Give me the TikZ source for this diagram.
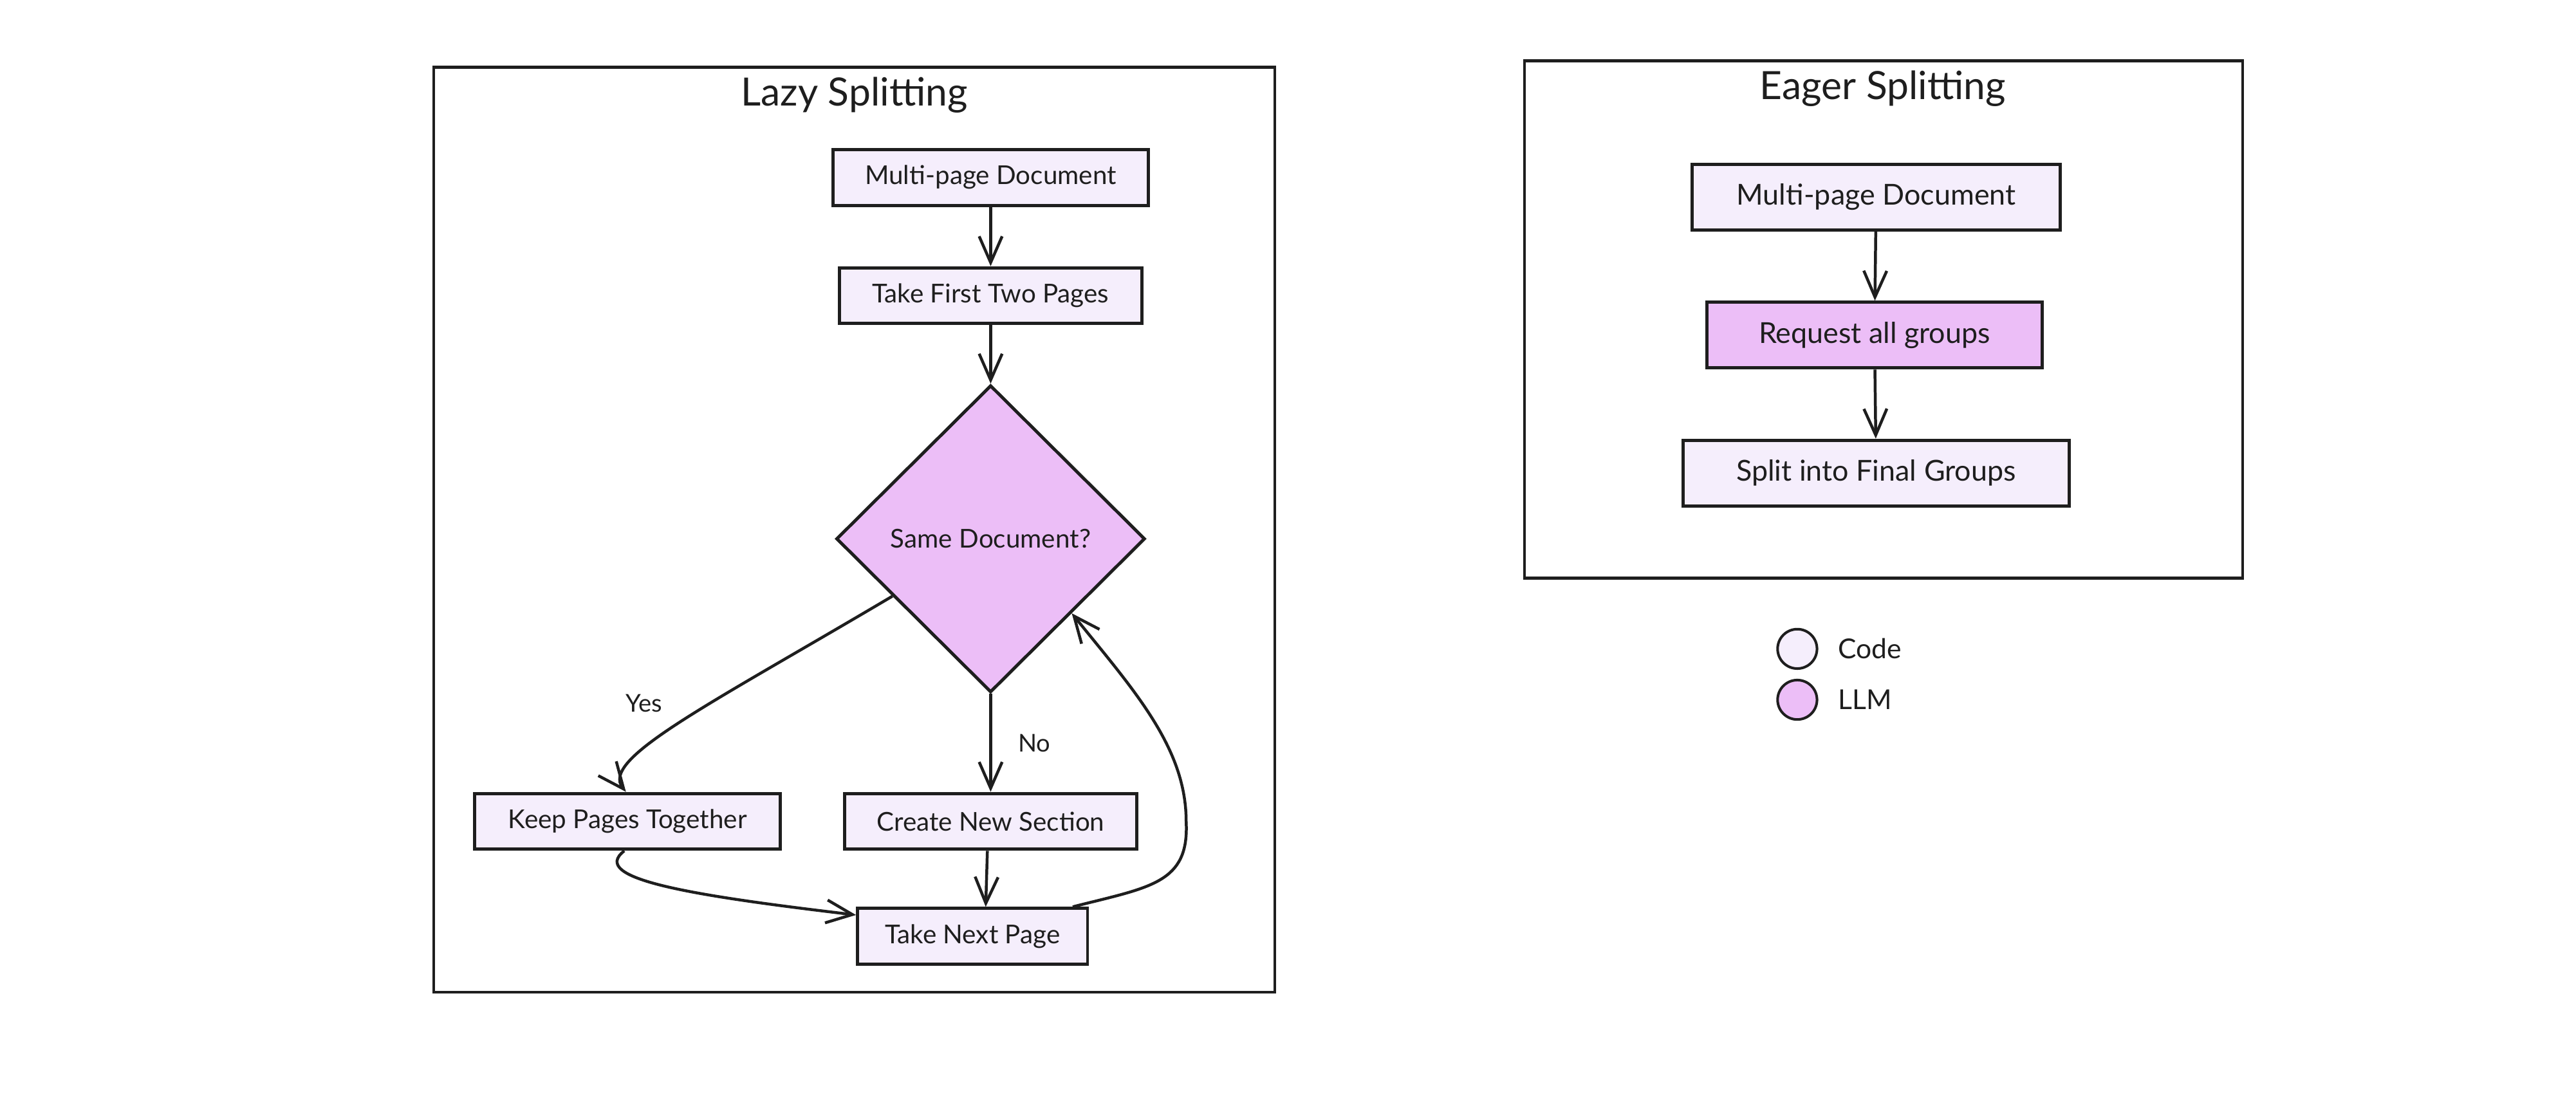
\documentclass[tikz,border=0pt]{standalone}
\usepackage{fontspec}
\setmainfont{Lato}
\usetikzlibrary{arrows.meta, shapes.geometric, positioning, calc}
\definecolor{codefill}{RGB}{245,238,252}
\definecolor{llmfill}{RGB}{236,190,247}
\definecolor{ink}{RGB}{30,30,30}

\begin{document}
\begin{tikzpicture}[
            x=0.02cm, y=-0.02cm,
            box/.style={draw=ink, fill=codefill, line width=1.1pt, minimum height=0.68cm, inner sep=0pt, text=ink, font=\fontsize{9}{11}\selectfont},
            bigbox/.style={box, minimum height=0.8cm, font=\fontsize{10}{12}\selectfont},
            llmbox/.style={bigbox, fill=llmfill},
            decision/.style={diamond, draw=ink, fill=llmfill, line width=1.1pt, minimum width=3.76cm, minimum height=3.74cm, inner sep=0pt, text=ink, font=\fontsize{9}{11}\selectfont},
            frame/.style={draw=ink, line width=1pt},
            title/.style={text=ink, font=\fontsize{13.5}{16}\selectfont},
            lbl/.style={text=ink, font=\fontsize{8.5}{10}\selectfont},
            dot/.style={circle, draw=ink, line width=0.9pt, minimum size=0.48cm, inner sep=0pt},
            arr/.style={-{Straight Barb[length=0.32cm, width=0.28cm]}, line width=1pt, ink}
        ]
            \useasboundingbox (0,0) rectangle (1568,669);

            % lazy splitting
            \draw[frame] (264,41) rectangle (776,604);
            \node[title] (lazytitle) at (520,58) {Lazy Splitting};
            \node[box, minimum width=3.84cm] (ldoc) at (603,108) {Multi-page Document};
            \node[box, minimum width=3.68cm] (first) at (603,180) {Take First Two Pages};
            \node[decision] (same) at (603,328) {Same Document?};
            \node[box, minimum width=3.72cm] (keep) at (382,500) {Keep Pages Together};
            \node[box, minimum width=3.56cm] (create) at (603,500) {Create New Section};
            \node[box, minimum width=2.8cm] (next) at (592,570) {Take Next Page};
            \node[lbl] (yes) at (392,428) {Yes};

            \draw[arr] (ldoc) -- (first);
            \draw[arr] (first) -- (same);
            \draw[arr] ($(same.west)!0.37!(same.south)$) .. controls (430,430) and (365,462) .. ([xshift=-0.02cm]keep.north);
            \draw[arr] (same.south) -- node[lbl, right=0.2cm] {No} (create.north);
            \draw[arr] ([xshift=-0.04cm]create.south) -- ([xshift=0.16cm]next.north);
            \draw[arr] ([xshift=-0.04cm]keep.south) .. controls (358,535) and (420,545) .. ([yshift=0.26cm]next.west);
            \draw[arr] ([xshift=-0.2cm]next.north east) .. controls (700,540) and (724,538) .. (722,500)
                .. controls (722,455) and (690,420) .. ($(same.south)!0.52!(same.east)$);

            % eager splitting
            \draw[frame] (928,37) rectangle (1365,352);
            \node[title] (eagertitle) at (1146,54) {Eager Splitting};
            \node[bigbox, minimum width=4.48cm] (edoc) at (1142,120) {Multi-page Document};
            \node[llmbox, minimum width=4.08cm] (request) at (1141,204) {Request all groups};
            \node[bigbox, minimum width=4.7cm] (split) at (1142,288) {Split into Final Groups};

            \draw[arr] (edoc) -- (request);
            \draw[arr] (request) -- (split);

            % legend
            \node[dot, fill=codefill] (codedot) at (1094,395) {};
            \node[lbl, font=\fontsize{9.5}{11}\selectfont, right=0.12cm of codedot] (codetext) {Code};
            \node[dot, fill=llmfill] (llmdot) at (1094,426) {};
            \node[lbl, font=\fontsize{9.5}{11}\selectfont, right=0.12cm of llmdot] (llmtext) {LLM};
        \end{tikzpicture}
\end{document}
